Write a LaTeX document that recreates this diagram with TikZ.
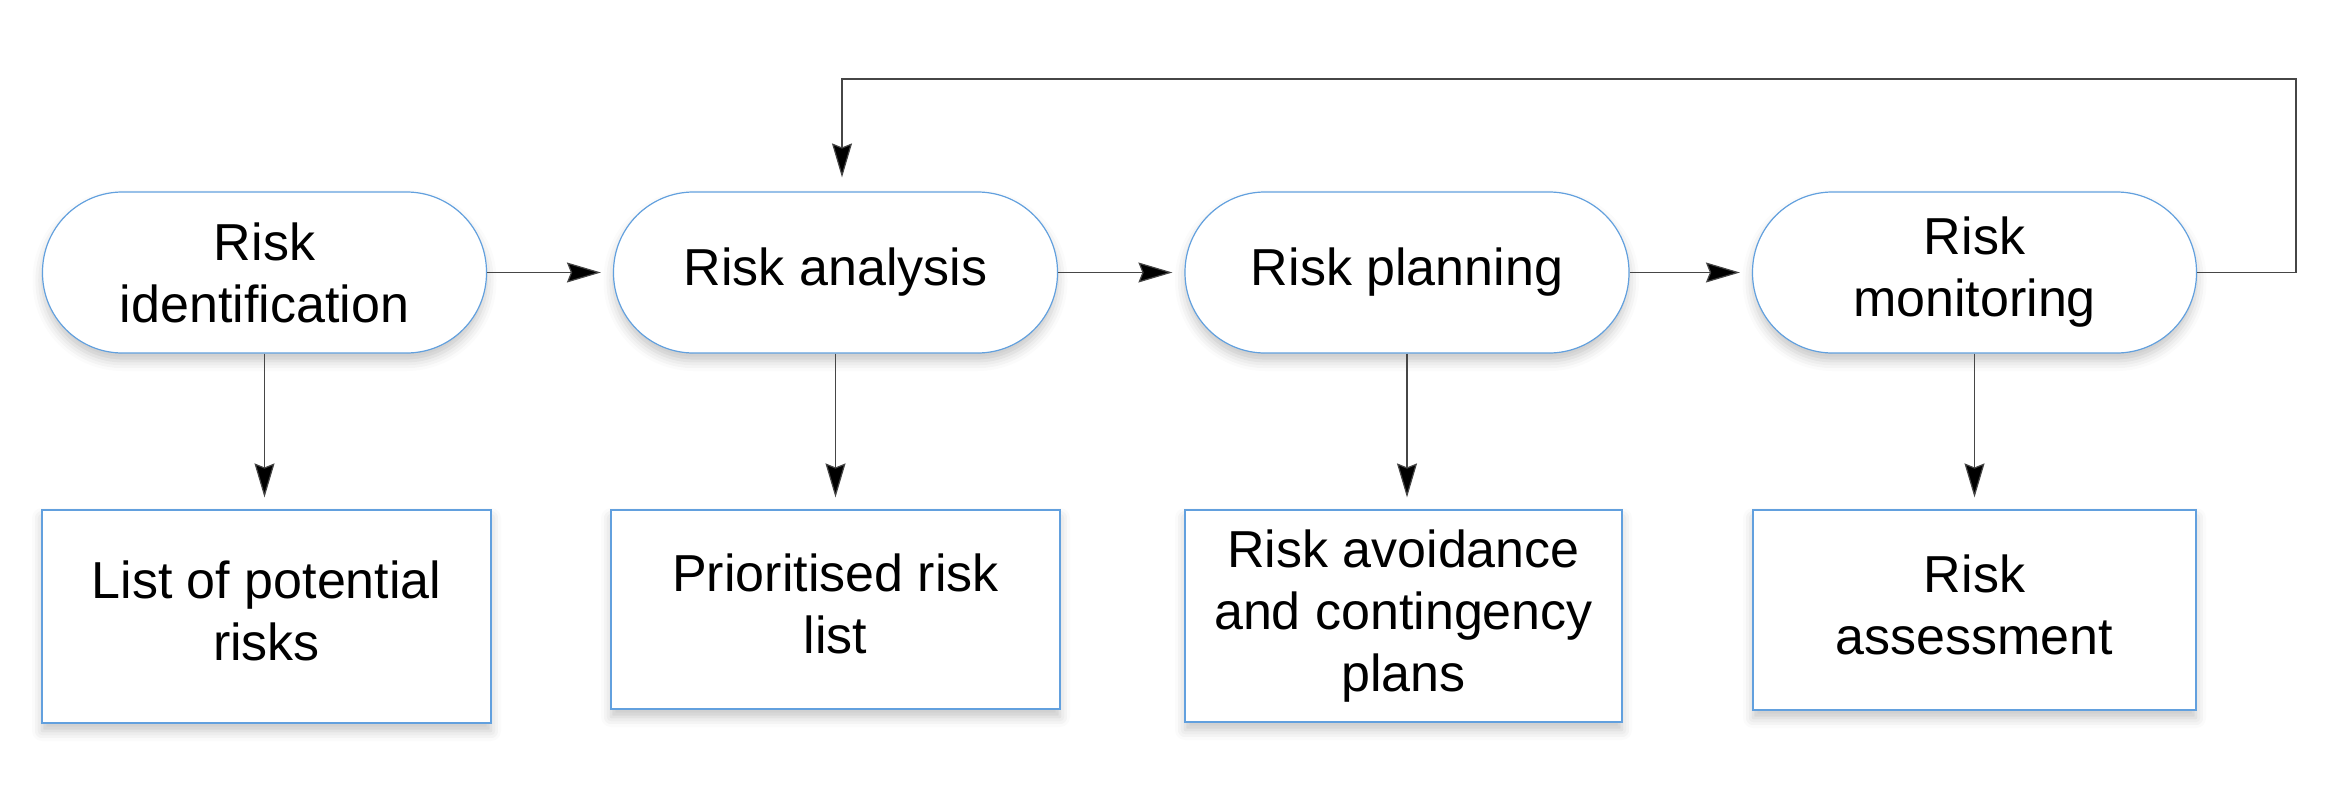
\documentclass[tikz,border=0pt]{standalone}
\usepackage{fontspec}
\setmainfont{Liberation Sans}
\usetikzlibrary{arrows.meta,shadows.blur,calc}
\definecolor{edgeblue}{RGB}{98,160,222}
\definecolor{linegray}{RGB}{70,70,70}
\tikzset{
  pill/.style={draw=edgeblue, line width=0.6pt, fill=white, rounded corners=40pt,
    minimum width=222pt, minimum height=80.5pt, align=center, inner sep=0pt,
    font=\fontsize{26pt}{31pt}\selectfont,
    blur shadow={shadow xshift=0pt, shadow yshift=-4pt, shadow blur radius=5pt, shadow opacity=22}},
  outbox/.style={draw=edgeblue, line width=0.6pt, fill=white, align=center, inner sep=0pt,
    font=\fontsize{26pt}{31pt}\selectfont, text depth=5.5pt,
    blur shadow={shadow xshift=0pt, shadow yshift=-4pt, shadow blur radius=5pt, shadow opacity=22}},
  flow/.style={draw=linegray, line width=0.6pt,
    -{Stealth[length=17pt, width=10pt, inset=2pt, fill=black]}},
}
\begin{document}
\begin{tikzpicture}[x=0.5pt, y=-0.5pt]
\useasboundingbox (0,0) rectangle (2350,792);
% process pills
\node[pill] (p1) at (264.5,272.5) {Risk\\identification};
\node[pill] (p2) at (835.5,272.5) {Risk analysis};
\node[pill] (p3) at (1407,272.5) {Risk planning};
\node[pill] (p4) at (1974.5,272.5) {Risk\\monitoring};
% output boxes
\node[outbox, minimum width=224.5pt, minimum height=106.5pt] (b1) at (266.5,616.5) {List of potential\\risks};
\node[outbox, minimum width=224.5pt, minimum height=99.5pt] (b2) at (835.5,609.5) {Prioritised risk\\list};
\node[outbox, minimum width=218.5pt, minimum height=106pt] (b3) at (1403.5,616) {Risk avoidance\\and contingency\\plans};
\node[outbox, minimum width=221.5pt, minimum height=100pt] (b4) at (1974.5,610) {Risk\\assessment};
% horizontal flow
\draw[flow, shorten >=6pt] (p1.east) -- (p2.west);
\draw[flow, shorten >=6pt] (p2.east) -- (p3.west);
\draw[flow, shorten >=6pt] (p3.east) -- (p4.west);
% downward outputs
\draw[flow, shorten >=6pt] (p1.south) -- (p1.south |- b1.north);
\draw[flow, shorten >=6pt] (p2.south) -- (p2.south |- b2.north);
\draw[flow, shorten >=6pt] (p3.south) -- (p3.south |- b3.north);
\draw[flow, shorten >=6pt] (p4.south) -- (p4.south |- b4.north);
% feedback loop
\coordinate (fb) at (2296,79);
\coordinate (fbin) at (842,79);
\draw[flow, shorten >=7pt] (p4.east) -- (p4.east -| fb) -- (fb) -- (fbin) -- (fbin |- p2.north);
\end{tikzpicture}
\end{document}
